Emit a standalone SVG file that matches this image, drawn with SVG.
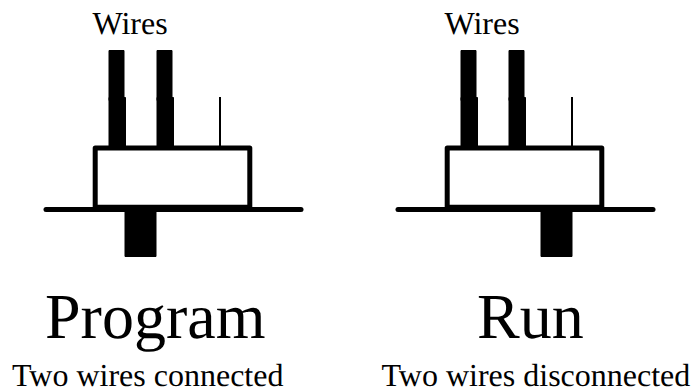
<svg xmlns="http://www.w3.org/2000/svg" width="693" height="390" viewBox="0 0 693 390">
<style>
text{font-family:"Liberation Serif","Times New Roman",serif;fill:#000;text-rendering:geometricPrecision}
.s{font-size:32px}
.l{font-size:64px}
.k{fill:#000;stroke:#000;stroke-width:1;stroke-linejoin:round}
.b{fill:#fff;stroke:#000;stroke-width:5;stroke-linejoin:round}
.g{fill:none;stroke:#000;stroke-width:5;stroke-linecap:round}
</style>
<rect width="693" height="390" fill="#fff"/>
<g id="program-switch">
<rect class="k" x="109" y="50.500" width="15" height="50"/>
<rect class="k" x="109" y="97.500" width="16.500" height="50"/>
<rect class="k" x="157" y="50.500" width="15" height="50"/>
<rect class="k" x="157" y="97.500" width="16.500" height="50"/>
<rect x="219" y="97" width="2" height="50" fill="#000"/>
<rect class="b" x="95.200" y="148" width="154.600" height="59.200"/>
<rect class="k" x="125" y="209" width="31" height="47.500"/>
</g>
<g id="run-switch">
<rect class="k" x="461" y="50.500" width="15" height="50"/>
<rect class="k" x="461" y="97.500" width="16.500" height="50"/>
<rect class="k" x="509" y="50.500" width="15" height="50"/>
<rect class="k" x="509" y="97.500" width="16.500" height="50"/>
<rect x="571" y="97" width="2" height="50" fill="#000"/>
<rect class="b" x="447.200" y="148" width="154.600" height="59.200"/>
<rect class="k" x="541" y="209" width="31" height="47.500"/>
</g>
<g id="connectors">
<line class="g" x1="46" y1="209.500" x2="301" y2="209.500"/>
<line class="g" x1="398" y1="209.500" x2="653" y2="209.500"/>
</g>
<g id="labels">
<text class="s" x="92.500" y="33.500">Wires</text>
<text class="s" x="444.500" y="33.500">Wires</text>
<text class="l" x="45" y="338">Program</text>
<text class="l" x="477" y="338">Run</text>
<text class="s" x="12" y="385.500">Two wires connected</text>
<text class="s" x="381.500" y="385.500">Two wires disconnected</text>
</g>
</svg>
